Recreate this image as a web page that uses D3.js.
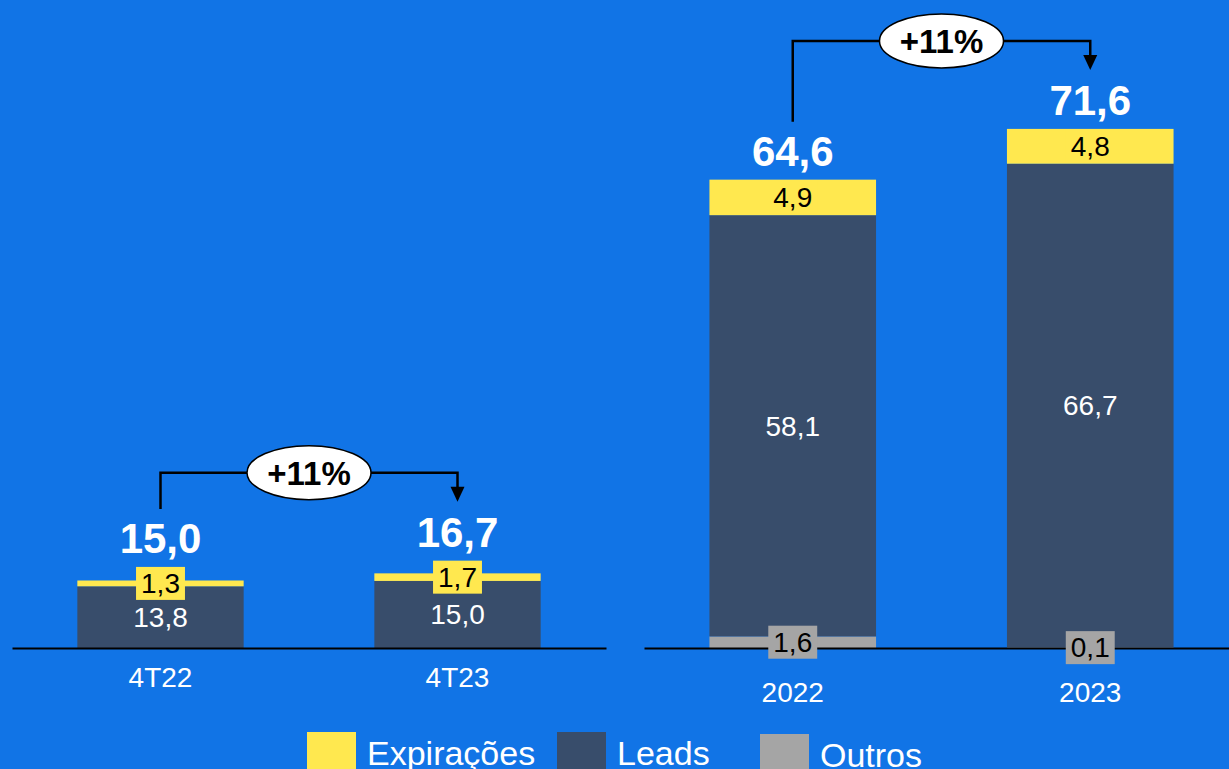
<!DOCTYPE html>
<html>
<head>
<meta charset="utf-8">
<script src="https://cdn.jsdelivr.net/npm/d3@7"></script>
<style>
  html, body { margin: 0; padding: 0; background: #1174E6; }
  svg { display: block; font-family: "Liberation Sans", Arial, sans-serif; }
</style>
</head>
<body>
<div id="chart"></div>
<script>
// data
var quarters = ["4T22", "4T23"];
var years = ["2022", "2023"];
var leadsQ = [13.8, 15.0];
var expQ = [1.3, 1.7];
var outrosQ = [0, 0];
var totalsQ = [15.0, 16.7];
var leadsY = [58.1, 66.7];
var expY = [4.9, 4.8];
var outrosY = [1.6, 0.1];
var totalsY = [64.6, 71.6];
var growth = ["+11%", "+11%"];
var legendNames = ["Expirações", "Leads", "Outros"];

var colors = { exp: "#FFE84F", leads: "#384D6B", outros: "#A5A5A5" };
var fmt = function(v) { return d3.format(".1f")(v).replace(".", ","); };

var width = 1229, height = 769, baseY = 648;

var svg = d3.select("#chart")
  .append("svg")
    .attr("width", width)
    .attr("height", height);

svg.append("rect").attr("width", width).attr("height", height).attr("fill", "#1174E6");

function panel(cats, leads, exp, outros, totals, pct, xRange, pxPerUnit, labelOffset) {
  var x = d3.scaleBand().domain(cats).range(xRange).paddingInner(0.44).paddingOuter(0.22);
  var y = d3.scaleLinear().domain([0, 100]).range([baseY, baseY - 100 * pxPerUnit]);

  var rows = cats.map(function(c, i) {
    return { cat: c, outros: outros[i], leads: leads[i], exp: exp[i], total: totals[i] };
  });
  var stack = d3.stack().keys(["outros", "leads", "exp"])(rows);

  var g = svg.append("g");

  // bars
  stack.forEach(function(layer) {
    g.selectAll(null)
      .data(layer)
      .enter()
      .append("rect")
        .attr("x", function(d) { return x(d.data.cat); })
        .attr("width", x.bandwidth())
        .attr("y", function(d) { return y(d[1]); })
        .attr("height", function(d) { return y(d[0]) - y(d[1]); })
        .attr("fill", colors[layer.key]);
  });

  // axis
  var axis = g.append("g")
    .attr("transform", "translate(0," + baseY + ")")
    .call(d3.axisBottom(x).tickSize(0).tickPadding(labelOffset));
  axis.select(".domain").attr("stroke", "#000").attr("stroke-width", 2);
  axis.selectAll("text")
    .attr("fill", "#fff")
    .attr("font-size", 28)
    .attr("font-family", "Liberation Sans, Arial, sans-serif");

  // segment labels
  var boxH = 33;
  var topOf = [];
  stack.forEach(function(layer) {
    layer.forEach(function(d, i) {
      var v = d.data[layer.key];
      if (!v) return;
      var cx = x(d.data.cat) + x.bandwidth() / 2;
      var cy = (y(d[0]) + y(d[1])) / 2;
      if (layer.key === "leads") {
        g.append("text").attr("x", cx).attr("y", cy).attr("dy", "0.35em")
          .attr("text-anchor", "middle").attr("font-size", 28).attr("fill", "#fff")
          .text(fmt(v));
      } else {
        var t = g.append("text").attr("x", cx).attr("y", cy).attr("dy", "0.35em")
          .attr("text-anchor", "middle").attr("font-size", 28).attr("fill", "#000")
          .text(fmt(v));
        var w = t.node().getComputedTextLength() + 10;
        g.insert("rect", function() { return t.node(); })
          .attr("x", cx - w / 2).attr("y", cy - boxH / 2)
          .attr("width", w).attr("height", boxH)
          .attr("fill", colors[layer.key]);
        if (layer.key === "exp") topOf[i] = Math.min(y(d[1]), cy - boxH / 2);
      }
    });
  });

  // totals
  var capTops = [];
  rows.forEach(function(r, i) {
    var cx = x(r.cat) + x.bandwidth() / 2;
    var top = topOf[i] !== undefined ? topOf[i] : y(r.outros + r.leads + r.exp);
    var base = top - 14;
    capTops[i] = base - 30;
    g.append("text").attr("x", cx).attr("y", base)
      .attr("text-anchor", "middle").attr("font-size", 42).attr("font-weight", "bold")
      .attr("fill", "#fff").text(fmt(r.total));
  });

  // growth arrow
  var x1 = x(cats[0]) + x.bandwidth() / 2;
  var x2 = x(cats[1]) + x.bandwidth() / 2;
  var lineY = Math.min(capTops[0], capTops[1]) - 44;
  var tipY = capTops[1] - 15;
  g.append("path")
    .attr("d", "M" + x1 + "," + (capTops[0] - 14) + "V" + lineY + "H" + x2 + "V" + (tipY - 12))
    .attr("fill", "none").attr("stroke", "#000").attr("stroke-width", 2.5);
  g.append("path")
    .attr("d", "M" + (x2 - 7) + "," + (tipY - 15) + "L" + (x2 + 7) + "," + (tipY - 15) + "L" + x2 + "," + tipY + "Z")
    .attr("fill", "#000");
  var mx = (x1 + x2) / 2;
  g.append("ellipse").attr("cx", mx).attr("cy", lineY).attr("rx", 62).attr("ry", 27)
    .attr("fill", "#fff").attr("stroke", "#000").attr("stroke-width", 1.5);
  g.append("text").attr("x", mx).attr("y", lineY).attr("dy", "0.36em")
    .attr("text-anchor", "middle").attr("font-size", 33).attr("font-weight", "bold")
    .attr("fill", "#000").text(pct);
}

panel(quarters, leadsQ, expQ, outrosQ, totalsQ, growth[0], [12, 606], 4.47, 19);
panel(years, leadsY, expY, outrosY, totalsY, growth[1], [644, 1239], 7.25, 34);

// legend
var legendX = [307, 557, 760];
var legendY = [732, 732, 734];
var legendColors = [colors.exp, colors.leads, colors.outros];
var legend = svg.append("g");
legend.selectAll("rect")
  .data(legendNames)
  .enter()
  .append("rect")
    .attr("x", function(d, i) { return legendX[i]; })
    .attr("y", function(d, i) { return legendY[i]; })
    .attr("width", 49)
    .attr("height", 49)
    .attr("fill", function(d, i) { return legendColors[i]; });
legend.selectAll("text")
  .data(legendNames)
  .enter()
  .append("text")
    .attr("x", function(d, i) { return legendX[i] + 60; })
    .attr("y", function(d, i) { return legendY[i] + 33; })
    .attr("font-size", 34)
    .attr("fill", "#fff")
    .text(function(d) { return d; });
</script>
</body>
</html>
